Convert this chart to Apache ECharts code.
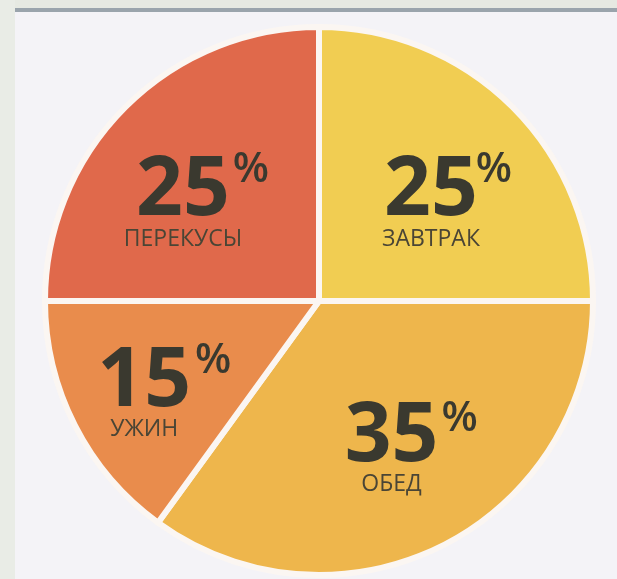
<!DOCTYPE html>
<html>
<head>
<meta charset="utf-8">
<script src="https://cdn.jsdelivr.net/npm/echarts@6/dist/echarts.min.js"></script>
<style>
  html, body { margin: 0; padding: 0; background: #f4f3f7; }
  #chart { width: 617px; height: 579px; }
</style>
</head>
<body>
<div id="chart"></div>
<script>
// data, clockwise from 12 o'clock
const names = ['ЗАВТРАК', 'ОБЕД', 'УЖИН', 'ПЕРЕКУСЫ'];
const values = [25, 35, 15, 25];

const colors = ['#f1cd52', '#eeb64c', '#e98c4c', '#e0694b'];
// nudges from the default inside-label spot, per slice
const labelShift = [[13, 4], [9, 26], [-50, 32], [-37, 4]];
// the raised "%" sign sits up and to the right of the number
const pctShift = [[76, -32], [77, -7], [19, -4], [31, -32]];

const chart = echarts.init(document.getElementById('chart'), null, { renderer: 'canvas' });

const pieBase = {
    type: 'pie',
    center: [319, 301],
    radius: 274,
    startAngle: 90,
    clockwise: true,
    silent: true,
    labelLine: { show: false },
};

chart.setOption({
    backgroundColor: '#f4f3f7',
    animation: false,
    graphic: [
        { type: 'rect', shape: { x: 0, y: 0, width: 617, height: 9 }, style: { fill: '#e6e9e2' } },
        { type: 'rect', shape: { x: 15, y: 8, width: 602, height: 4 }, style: { fill: '#9aa4ac' } },
        { type: 'rect', shape: { x: 0, y: 0, width: 15, height: 579 }, style: { fill: '#e9ece6' } },
    ],
    series: [
        Object.assign({}, pieBase, {
            data: names.map((n, i) => ({
                name: n,
                value: values[i],
                itemStyle: { color: colors[i] },
            })),
            itemStyle: { borderColor: '#fbf6f2', borderWidth: 6 },
            label: {
                show: true,
                position: 'inside',
                formatter: p => '{num|' + p.value + '}\n{name|' + p.name + '}',
                rich: {
                    num: {
                        fontFamily: 'Open Sans',
                        fontWeight: 'bold',
                        fontSize: 82,
                        color: '#3a392f',
                        lineHeight: 66,
                    },
                    name: {
                        fontFamily: 'Open Sans',
                        fontSize: 23,
                        color: '#4a4535',
                        lineHeight: 28,
                    },
                },
            },
            labelLayout: p => ({ dx: labelShift[p.dataIndex][0], dy: labelShift[p.dataIndex][1] }),
        }),
        // same slices again, invisible, only to carry the "%" marks
        Object.assign({}, pieBase, {
            data: names.map((n, i) => ({ name: n, value: values[i] })),
            itemStyle: { color: 'rgba(0,0,0,0)', borderWidth: 0 },
            label: {
                show: true,
                position: 'inside',
                formatter: '%',
                fontFamily: 'Open Sans',
                fontWeight: 600,
                fontSize: 42,
                color: '#3a392f',
            },
            labelLayout: p => ({ dx: pctShift[p.dataIndex][0], dy: pctShift[p.dataIndex][1] }),
        }),
    ],
});
</script>
</body>
</html>
